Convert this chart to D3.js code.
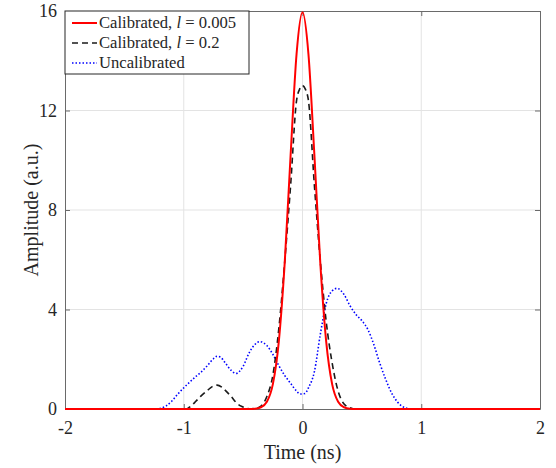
<!DOCTYPE html>
<html>
<head>
<meta charset="utf-8">
<script src="https://cdn.jsdelivr.net/npm/d3@7"></script>
<style>
  body { margin: 0; background: #fff; }
  text { font-family: "Liberation Serif", "Times New Roman", serif; fill: #262626; }
</style>
</head>
<body>
<div id="chart"></div>
<script>
// Data
var redT = [-2, -0.45, -0.4, -0.35, -0.3, -0.25, -0.2, -0.15, -0.1, -0.05, 0, 0.05, 0.1, 0.15, 0.2, 0.25, 0.3, 0.35, 0.4, 0.45, 2];
var redA = [0, 0, 0.01, 0.07, 0.29, 0.99, 2.69, 5.86, 10.22, 14.27, 15.95, 14.27, 10.22, 5.86, 2.69, 0.99, 0.29, 0.07, 0.01, 0, 0];

var blackT = [-2, -0.98, -0.94, -0.9, -0.86, -0.8, -0.76, -0.72, -0.68, -0.65, -0.6, -0.55, -0.51, -0.47, -0.43, -0.4, -0.35, -0.3, -0.25, -0.2, -0.15, -0.1, -0.05, -0.025, 0, 0.025, 0.05, 0.1, 0.15, 0.2, 0.25, 0.3, 0.35, 0.4, 0.45, 2];
var blackA = [0, 0, 0.12, 0.3, 0.5, 0.75, 0.9, 0.96, 0.88, 0.75, 0.5, 0.22, 0.1, 0.03, 0.01, 0.02, 0.12, 0.5, 1.35, 3.2, 5.9, 9.0, 12.4, 12.85, 13.0, 12.85, 12.4, 9.0, 5.95, 3.5, 1.84, 0.72, 0.2, 0.05, 0, 0];

var blueT = [-2, -1.25, -1.2, -1.15, -1.1, -1.05, -1.0, -0.95, -0.9, -0.85, -0.8, -0.75, -0.72, -0.69, -0.65, -0.6, -0.56, -0.5, -0.45, -0.4, -0.36, -0.3, -0.25, -0.2, -0.15, -0.1, -0.05, -0.02, 0.02, 0.05, 0.1, 0.15, 0.2, 0.25, 0.29, 0.35, 0.4, 0.45, 0.5, 0.55, 0.6, 0.65, 0.7, 0.75, 0.8, 0.85, 0.9, 0.95, 2];
var blueA = [0, 0, 0.02, 0.12, 0.32, 0.6, 0.85, 1.08, 1.3, 1.5, 1.75, 2.02, 2.12, 2.08, 1.85, 1.55, 1.43, 1.72, 2.25, 2.6, 2.71, 2.55, 2.2, 1.75, 1.35, 1.03, 0.72, 0.6, 0.62, 0.85, 1.5, 3.0, 4.25, 4.75, 4.85, 4.6, 4.15, 3.8, 3.55, 3.2, 2.6, 1.85, 1.2, 0.65, 0.28, 0.08, 0.01, 0, 0];

var xTicks = [-2, -1, 0, 1, 2];
var yTicks = [0, 4, 8, 12, 16];
var legendLabels = ["Calibrated, ", "Calibrated, ", "Uncalibrated"];
var legendValues = [" = 0.005", " = 0.2", ""];

var svgWidth = 556, svgHeight = 468;
var margin = { top: 11, right: 16, bottom: 59, left: 65 };
var width = svgWidth - margin.left - margin.right;
var height = svgHeight - margin.top - margin.bottom;

var svg = d3.select("#chart").append("svg")
  .attr("width", svgWidth)
  .attr("height", svgHeight);
var g = svg.append("g")
  .attr("transform", `translate(${margin.left}, ${margin.top})`);

var x = d3.scaleLinear().domain([-2, 2]).range([0, width]);
var y = d3.scaleLinear().domain([0, 16]).range([height, 0]);

// grid
g.selectAll(".gx").data(xTicks.slice(1, -1)).enter().append("line")
  .attr("x1", d => x(d)).attr("x2", d => x(d))
  .attr("y1", 0).attr("y2", height)
  .attr("stroke", "#e3e3e3").attr("stroke-width", 1);
g.selectAll(".gy").data(yTicks.slice(1, -1)).enter().append("line")
  .attr("x1", 0).attr("x2", width)
  .attr("y1", d => y(d)).attr("y2", d => y(d))
  .attr("stroke", "#e3e3e3").attr("stroke-width", 1);

// axes (ticks inside)
var axisColor = "#6a6a6a";
var xAxisBottom = g.append("g").attr("transform", `translate(0, ${height})`)
  .call(d3.axisBottom(x).tickValues(xTicks).tickSizeInner(-5).tickSizeOuter(0).tickPadding(12).tickFormat(d => d < 0 ? "-" + Math.abs(d) : d));
var xAxisTop = g.append("g")
  .call(d3.axisTop(x).tickValues(xTicks).tickSizeInner(-5).tickSizeOuter(0).tickFormat(""));
var yAxisLeft = g.append("g")
  .call(d3.axisLeft(y).tickValues(yTicks).tickSizeInner(-5).tickSizeOuter(0).tickPadding(8));
var yAxisRight = g.append("g").attr("transform", `translate(${width}, 0)`)
  .call(d3.axisRight(y).tickValues(yTicks).tickSizeInner(-5).tickSizeOuter(0).tickFormat(""));
[xAxisBottom, xAxisTop, yAxisLeft, yAxisRight].forEach(function(a) {
  a.selectAll("path").attr("stroke", axisColor);
  a.selectAll("line").attr("stroke", axisColor);
  a.selectAll("text").style("font-family", '"Liberation Serif", serif').style("font-size", "18px").attr("fill", "#262626");
});

// lines
var line = d3.line().x(d => x(d[0])).y(d => y(d[1])).curve(d3.curveMonotoneX);
var series = [
  { t: blueT, a: blueA, color: "#0000ff", width: 1.6, dash: "1.5,2" },
  { t: blackT, a: blackA, color: "#1a1a1a", width: 1.6, dash: "6,4" },
  { t: redT, a: redA, color: "#ff0000", width: 2, dash: null }
];
series.forEach(function(s) {
  g.append("path")
    .datum(d3.zip(s.t, s.a))
    .attr("fill", "none")
    .attr("stroke", s.color)
    .attr("stroke-width", s.width)
    .attr("stroke-dasharray", s.dash)
    .attr("d", line);
});

// legend
var legend = g.append("g");
legend.append("rect")
  .attr("x", 0).attr("y", 0).attr("width", 184).attr("height", 63)
  .attr("fill", "#fff").attr("stroke", "#262626").attr("stroke-width", 1);
var legendStyle = [series[2], series[1], series[0]];
legendLabels.forEach(function(lbl, i) {
  var ly = 12 + i * 20;
  legend.append("line")
    .attr("x1", 7).attr("x2", 32).attr("y1", ly).attr("y2", ly)
    .attr("stroke", legendStyle[i].color)
    .attr("stroke-width", legendStyle[i].width)
    .attr("stroke-dasharray", legendStyle[i].dash);
  var tx = legend.append("text")
    .attr("x", 34).attr("y", ly + 5)
    .style("font-size", "16.6px");
  tx.append("tspan").text(lbl);
  if (legendValues[i]) {
    tx.append("tspan").style("font-style", "italic").text("l");
    tx.append("tspan").text(legendValues[i]);
  }
});

// axis labels
g.append("text")
  .attr("x", width / 2).attr("y", height + 50)
  .attr("text-anchor", "middle")
  .style("font-size", "20px")
  .text("Time (ns)");
g.append("text")
  .attr("transform", "rotate(-90)")
  .attr("x", -height / 2).attr("y", -margin.left + 38)
  .attr("text-anchor", "middle")
  .style("font-size", "20px")
  .text("Amplitude (a.u.)");
</script>
</body>
</html>
